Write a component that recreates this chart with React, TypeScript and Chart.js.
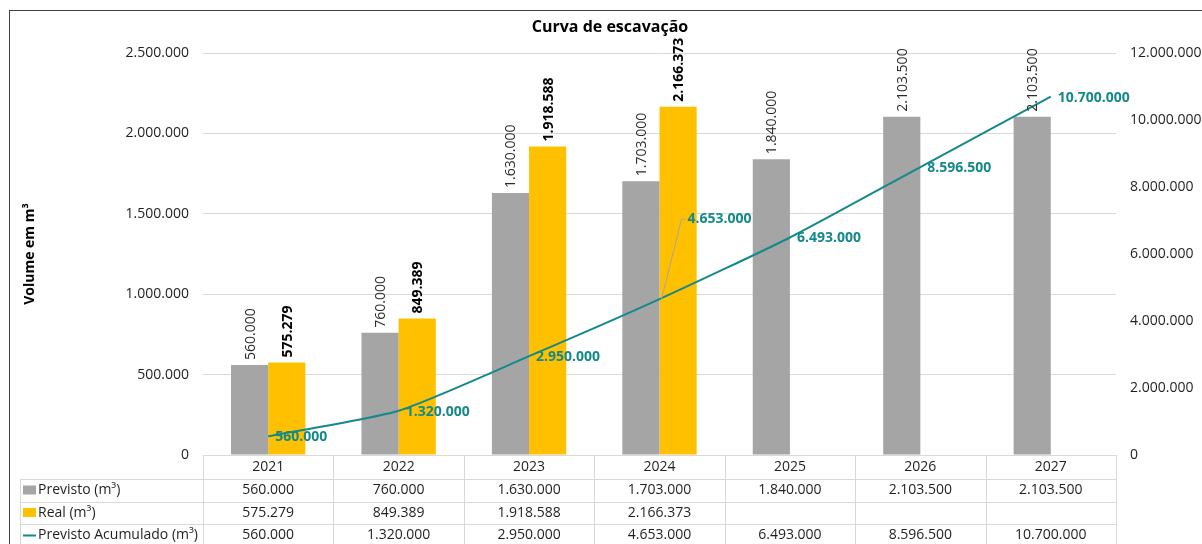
import { useEffect, useRef } from "react";
import { Chart, registerables } from "chart.js";

Chart.register(...registerables);

const years = ["2021", "2022", "2023", "2024", "2025", "2026", "2027"];
const previsto = [560000, 760000, 1630000, 1703000, 1840000, 2103500, 2103500];
const real: (number | null)[] = [575279, 849389, 1918588, 2166373, null, null, null];
const acumulado = [560000, 1320000, 2950000, 4653000, 6493000, 8596500, 10700000];
const seriesNames = ["Previsto (m³)", "Real (m³)", "Previsto Acumulado (m³)"];
const chartTitle = "Curva de escavação";
const leftAxisTitle = "Volume em m³";
const leftMax = 2500000;
const leftStep = 500000;
const rightMax = 12000000;
const rightStep = 2000000;

const GRAY = "#A5A5A5";
const YELLOW = "#FFC000";
const TEAL = "#14898A";
const TEXT = "#1F1F1F";
const GRID = "#D9D9D9";
const FONT = "'Open Sans', sans-serif";

function fmt(v: number): string {
  const s = Math.round(v).toString();
  return s.replace(/\B(?=(\d{3})+(?!\d))/g, ".");
}

const decorPlugin = {
  id: "decor",
  beforeDraw(chart: any) {
    const ctx = chart.ctx;
    ctx.save();
    ctx.fillStyle = "#ffffff";
    ctx.fillRect(0, 0, chart.width, chart.height);
    ctx.strokeStyle = "#404040";
    ctx.lineWidth = 1;
    ctx.strokeRect(9.5, 10.5, chart.width + 50, chart.height + 50);
    ctx.restore();
  },
  afterDatasetsDraw(chart: any) {
    const ctx = chart.ctx;
    ctx.save();
    const metaP = chart.getDatasetMeta(1);
    const metaR = chart.getDatasetMeta(2);
    const drawRot = (el: any, text: string, bold: boolean, color: string) => {
      ctx.save();
      ctx.translate(el.x + 1, el.y - 5);
      ctx.rotate(-Math.PI / 2);
      ctx.font = `${bold ? "bold " : ""}14px ${FONT}`;
      ctx.fillStyle = color;
      ctx.textAlign = "left";
      ctx.textBaseline = "middle";
      ctx.fillText(text, 0, 0);
      ctx.restore();
    };
    previsto.forEach((v, i) => {
      const el = metaP.data[i];
      if (el) drawRot(el, fmt(v), false, "#2A2A2A");
    });
    real.forEach((v, i) => {
      const el = metaR.data[i];
      if (el && v != null) drawRot(el, fmt(v), true, "#000000");
    });
    const metaL = chart.getDatasetMeta(0);
    ctx.font = `bold 14px ${FONT}`;
    ctx.fillStyle = TEAL;
    ctx.textAlign = "left";
    ctx.textBaseline = "middle";
    acumulado.forEach((v, i) => {
      const el = metaL.data[i];
      if (!el) return;
      if (i === 3) {
        const lx = el.x + 28;
        const ly = el.y - 80;
        ctx.save();
        ctx.strokeStyle = "#A6A6A6";
        ctx.lineWidth = 1;
        ctx.beginPath();
        ctx.moveTo(el.x + 2, el.y);
        ctx.lineTo(lx - 6, ly);
        ctx.lineTo(lx - 2, ly);
        ctx.stroke();
        ctx.restore();
        ctx.fillText(fmt(v), lx, ly);
      } else {
        ctx.fillText(fmt(v), el.x + 7, el.y + 1);
      }
    });
    ctx.restore();
  },
  afterDraw(chart: any) {
    const ctx = chart.ctx;
    const area = chart.chartArea;
    const xs = chart.scales.x;
    const n = years.length;
    const cw = (area.right - area.left) / n;
    const top = area.bottom;
    const rowYs = [top, top + 24, top + 47, top + 69, top + 92];
    const legendLeft = 20;
    ctx.save();
    ctx.font = `bold 16px ${FONT}`;
    ctx.fillStyle = "#000000";
    ctx.textAlign = "center";
    ctx.textBaseline = "middle";
    ctx.fillText(chartTitle, 610, 27);

    ctx.strokeStyle = GRID;
    ctx.lineWidth = 1;
    ctx.beginPath();
    ctx.moveTo(area.left, Math.round(top) + 0.5);
    ctx.lineTo(area.right, Math.round(top) + 0.5);
    for (let r = 1; r < rowYs.length; r++) {
      const y = Math.round(rowYs[r]) + 0.5;
      ctx.moveTo(legendLeft, y);
      ctx.lineTo(area.right, y);
    }
    for (let i = 0; i <= n; i++) {
      const x = Math.round(area.left + i * cw) + 0.5;
      ctx.moveTo(x, top);
      ctx.lineTo(x, chart.height);
    }
    ctx.moveTo(legendLeft + 0.5, rowYs[1]);
    ctx.lineTo(legendLeft + 0.5, chart.height);
    ctx.stroke();

    ctx.font = `14px ${FONT}`;
    ctx.fillStyle = TEXT;
    ctx.textAlign = "center";
    ctx.textBaseline = "middle";
    const mid = (r: number) => (rowYs[r] + rowYs[r + 1]) / 2;
    years.forEach((y, i) => {
      const cx = xs.getPixelForValue(i);
      ctx.fillText(y, cx, mid(0));
      ctx.fillText(fmt(previsto[i]), cx, mid(1));
      const rv = real[i];
      if (rv != null) ctx.fillText(fmt(rv), cx, mid(2));
      ctx.fillText(fmt(acumulado[i]), cx, mid(3));
    });

    ctx.textAlign = "left";
    ctx.fillStyle = GRAY;
    ctx.fillRect(23, mid(1) - 5, 13, 9);
    ctx.fillStyle = YELLOW;
    ctx.fillRect(23, mid(2) - 5, 13, 9);
    ctx.strokeStyle = TEAL;
    ctx.lineWidth = 2;
    ctx.beginPath();
    ctx.moveTo(23, mid(3));
    ctx.lineTo(36, mid(3));
    ctx.stroke();
    ctx.fillStyle = TEXT;
    ctx.fillText(seriesNames[0], 38, mid(1));
    ctx.fillText(seriesNames[1], 38, mid(2));
    ctx.fillText(seriesNames[2], 38, mid(3));
    ctx.restore();
  },
};

export default function App() {
  const ref = useRef<HTMLCanvasElement | null>(null);
  useEffect(() => {
    if (!ref.current) return;
    const chart = new Chart(ref.current, {
      type: "bar",
      data: {
        labels: years,
        datasets: [
          {
            type: "line",
            label: seriesNames[2],
            data: acumulado,
            yAxisID: "y1",
            borderColor: TEAL,
            backgroundColor: TEAL,
            borderWidth: 2,
            pointRadius: 0,
            tension: 0.2,
            order: 0,
          } as any,
          {
            type: "bar",
            label: seriesNames[0],
            data: previsto,
            yAxisID: "y",
            backgroundColor: GRAY,
            categoryPercentage: 0.57,
            barPercentage: 1,
            order: 1,
          },
          {
            type: "bar",
            label: seriesNames[1],
            data: real,
            yAxisID: "y",
            backgroundColor: YELLOW,
            categoryPercentage: 0.57,
            barPercentage: 1,
            order: 2,
          },
        ],
      },
      options: {
        responsive: false,
        animation: false,
        layout: { padding: { top: 53, left: 0, right: 0, bottom: 0 } },
        plugins: {
          legend: { display: false },
          title: { display: false },
          tooltip: { enabled: false },
        },
        scales: {
          x: {
            type: "category",
            grid: { display: false },
            border: { display: false },
            ticks: { display: false },
            afterFit: (s: any) => {
              s.height = 89;
            },
          },
          y: {
            position: "left",
            min: 0,
            max: leftMax,
            ticks: {
              stepSize: leftStep,
              padding: 14,
              color: TEXT,
              font: { family: FONT, size: 14 },
              callback: (v: any) => fmt(Number(v)),
            },
            grid: { color: GRID, drawTicks: false },
            border: { display: false },
            title: {
              display: true,
              text: leftAxisTitle,
              color: "#000000",
              font: { family: FONT, size: 14, weight: "bold" },
              padding: { top: 22, bottom: 0 },
            },
            afterFit: (s: any) => {
              s.width = 203;
            },
          },
          y1: {
            position: "right",
            min: 0,
            max: rightMax,
            ticks: {
              stepSize: rightStep,
              padding: 14,
              color: TEXT,
              font: { family: FONT, size: 14 },
              callback: (v: any) => fmt(Number(v)),
            },
            grid: { display: false, drawTicks: false },
            border: { display: false },
            afterFit: (s: any) => {
              s.width = 86;
            },
          },
        },
      } as any,
      plugins: [decorPlugin],
    });
    return () => chart.destroy();
  }, []);
  return (
    <div style={{ position: "fixed", left: 0, top: 0, width: 1202, height: 544, overflow: "hidden", background: "#fff" }}>
      <canvas ref={ref} width={1202} height={544} />
    </div>
  );
}
